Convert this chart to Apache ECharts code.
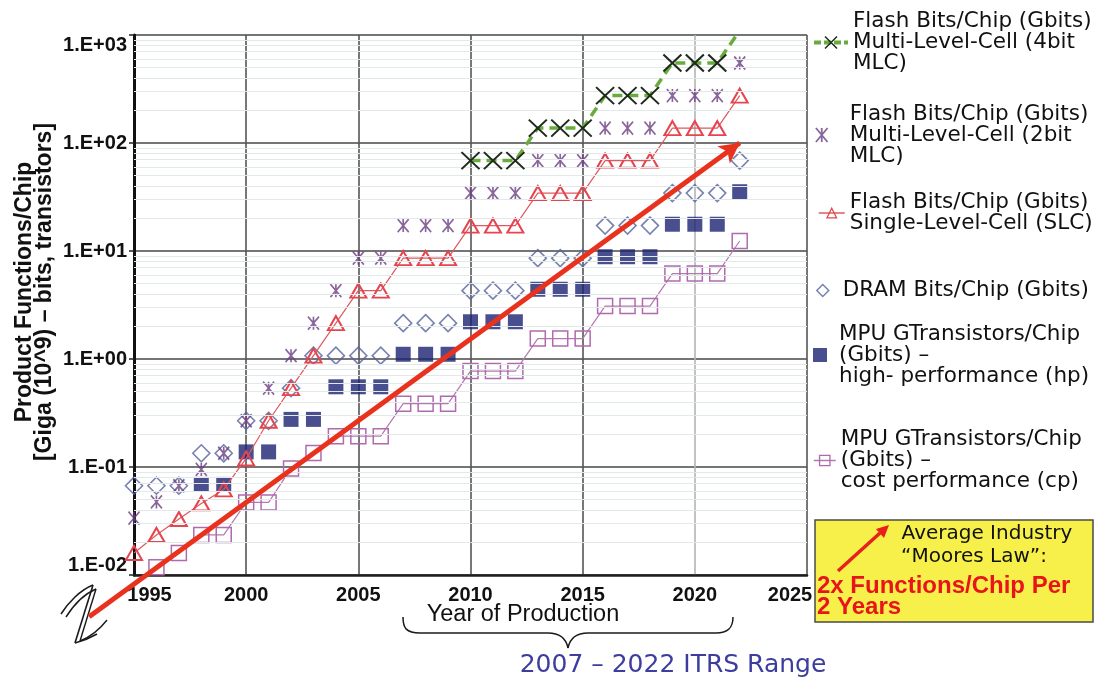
<!DOCTYPE html>
<html>
<head>
<meta charset="utf-8">
<title>Product Functions per Chip</title>
<script src="https://cdn.jsdelivr.net/npm/echarts@6/dist/echarts.min.js"></script>
<style>
  html, body { margin: 0; padding: 0; background: #ffffff; }
  #chart { width: 1102px; height: 681px; }
</style>
</head>
<body>
<div id="chart"></div>
<script>
// Year of production, one entry per column of marks
const years = [1995, 1996, 1997, 1998, 1999, 2000, 2001, 2002, 2003, 2004, 2005, 2006, 2007, 2008,
               2009, 2010, 2011, 2012, 2013, 2014, 2015, 2016, 2017, 2018, 2019, 2020, 2021, 2022];

// Gbits (or GTransistors) per chip; null where a product has no entry
const flash4bit = [null, null, null, null, null, null, null, null, null, null, null, null, null, null,
                   null, 68.72, 68.72, 68.72, 137.4, 137.4, 137.4, 274.9, 274.9, 274.9, 549.8, 549.8, 549.8, 1099.5];
const flash2bit = [0.0336, 0.0475, 0.0671, 0.095, 0.134, 0.268, 0.537, 1.074, 2.147, 4.295, 8.59, 8.59, 17.18, 17.18,
                   17.18, 34.36, 34.36, 34.36, 68.72, 68.72, 68.72, 137.4, 137.4, 137.4, 274.9, 274.9, 274.9, 549.8];
const flashSLC  = [0.016, 0.0235, 0.033, 0.046, 0.062, 0.12, 0.268, 0.537, 1.074, 2.147, 4.295, 4.295, 8.59, 8.59,
                   8.59, 17.18, 17.18, 17.18, 34.36, 34.36, 34.36, 68.72, 68.72, 68.72, 137.4, 137.4, 137.4, 274.9];
const dram      = [0.0671, 0.0671, 0.0671, 0.134, 0.134, 0.268, 0.268, 0.537, 1.074, 1.074, 1.074, 1.074, 2.147, 2.147,
                   2.147, 4.295, 4.295, 4.295, 8.59, 8.59, 8.59, 17.18, 17.18, 17.18, 34.36, 34.36, 34.36, 68.72];
const mpuHP     = [null, null, null, 0.069, 0.069, 0.138, 0.138, 0.276, 0.276, 0.553, 0.553, 0.553, 1.106, 1.106,
                   1.106, 2.212, 2.212, 2.212, 4.424, 4.424, 4.424, 8.848, 8.848, 8.848, 17.696, 17.696, 17.696, 35.391];
const mpuCP     = [null, 0.0118, 0.016, 0.0235, 0.0235, 0.047, 0.047, 0.097, 0.135, 0.193, 0.193, 0.193, 0.386, 0.386,
                   0.386, 0.773, 0.773, 0.773, 1.546, 1.546, 1.546, 3.092, 3.092, 3.092, 6.184, 6.184, 6.184, 12.368];

// Average industry trend: 2x functions per chip every 2 years
const mooreYears  = [1993, 2022];
const mooreValues = [0.0041, 100];

// Axis tick labels
const yTickLabels = ['1.E-02', '1.E-01', '1.E+00', '1.E+01', '1.E+02', '1.E+03'];
const xTickLabels = ['1995', '2000', '2005', '2010', '2015', '2020', '2025'];

// Series names (also legend text)
const N4 = 'Flash Bits/Chip (Gbits)\nMulti-Level-Cell (4bit\nMLC)';
const N2 = 'Flash Bits/Chip (Gbits)\nMulti-Level-Cell (2bit\nMLC)';
const NS = 'Flash Bits/Chip (Gbits)\nSingle-Level-Cell (SLC)';
const ND = 'DRAM Bits/Chip (Gbits)';
const NH = 'MPU GTransistors/Chip\n(Gbits) –\nhigh- performance (hp)';
const NC = 'MPU GTransistors/Chip\n(Gbits) –\ncost performance (cp)';

const pairs = vals => years.map((y, i) => vals[i] == null ? null : [y, vals[i]]).filter(Boolean);

// faint log-spaced lines between the decades
const minorLevels = [];
for (let e = -2; e < 3; e++) for (let m = 2; m <= 9; m++) minorLevels.push(m * Math.pow(10, e));

const SYM_X = 'path://M0,0L10,10M10,0L0,10';
const SYM_AST = 'path://M0,0L10,12M10,0L0,12M5,0L5,12';

const C = {
  f4Line: '#6aac3c', f4Mark: '#1f2a1f',
  f2: '#6b3f82',
  slc: '#e5454f', slcLine: '#dd5a60',
  dram: '#56639a',
  hp: '#1b2272',
  cp: '#b06aae', cpLine: '#b27ab0',
  moore: '#e8321e'
};

// Plot frame in pixels; the trend line uses a wider companion frame with the same scale
const G = { left: 134, right: 295, top: 35, bottom: 106 };
const X0 = 1995, X1 = 2025, EXT_X0 = 1993;
const LOG0 = -2, LOG1 = 3, EXT_LOG0 = -2.5;
const plotW = 1102 - G.left - G.right, plotH = 681 - G.top - G.bottom;
const G2 = {
  left: G.left - (X0 - EXT_X0) * plotW / (X1 - X0),
  right: G.right, top: G.top,
  bottom: G.bottom - (LOG0 - EXT_LOG0) * plotH / (LOG1 - LOG0)
};

const legendFont = { fontFamily: 'DejaVu Sans', fontSize: 21.5, lineHeight: 21, color: '#111' };

function legendBox(name, left, top, w, h, extra) {
  return Object.assign({
    data: [name], left: left, top: top, orient: 'vertical', padding: 0, itemGap: 0,
    itemWidth: w, itemHeight: h, selectedMode: false,
    textStyle: Object.assign({}, legendFont)
  }, extra || {});
}

// thin black strokes for the hand-drawn decorations
const ink = (w) => ({ fill: null, stroke: '#1a1a1a', lineWidth: w });
const bez = (x1, y1, c1x, c1y, c2x, c2y, x2, y2, w) => ({
  type: 'bezierCurve', silent: true,
  shape: { x1: x1, y1: y1, cpx1: c1x, cpy1: c1y, cpx2: c2x, cpy2: c2y, x2: x2, y2: y2 },
  style: ink(w)
});
const seg = (x1, y1, x2, y2, w) => ({
  type: 'line', silent: true, shape: { x1: x1, y1: y1, x2: x2, y2: y2 }, style: ink(w)
});

const chart = echarts.init(document.getElementById('chart'), null, { renderer: 'canvas' });

const option = {
  animation: false,
  backgroundColor: '#ffffff',
  grid: [
    { left: G.left, right: G.right, top: G.top, bottom: G.bottom, containLabel: false },
    { left: G2.left, right: G2.right, top: G2.top, bottom: G2.bottom, containLabel: false, show: false }
  ],
  xAxis: [{
    type: 'value', min: X0, max: X1, interval: 5, gridIndex: 0,
    axisLine: { show: true, onZero: false, lineStyle: { color: '#1e1e1e', width: 2.5 } },
    axisTick: { show: false },
    splitLine: { show: true, lineStyle: { color: ['#555', '#555', '#555', '#555', '#555', '#b4b4b4', '#555'], width: 1.6 } },
    axisLabel: {
      margin: 10, color: '#111', fontFamily: 'Liberation Sans', fontWeight: 'bold', fontSize: 20,
      formatter: v => {
        const t = xTickLabels[Math.round((v - X0) / 5)];
        if (v === X0) return '{first|' + t + '}';
        if (v === X1) return '{last|' + t + '}';
        return t;
      },
      rich: {
        first: { padding: [0, 0, 0, 31], fontFamily: 'Liberation Sans', fontWeight: 'bold', fontSize: 20, color: '#111' },
        last: { padding: [0, 34, 0, 0], fontFamily: 'Liberation Sans', fontWeight: 'bold', fontSize: 20, color: '#111' }
      }
    }
  }, {
    type: 'value', min: EXT_X0, max: X1, gridIndex: 1, show: false
  }],
  yAxis: [{
    type: 'log', logBase: 10, min: Math.pow(10, LOG0), max: Math.pow(10, LOG1), gridIndex: 0,
    axisLine: { show: true, lineStyle: { color: '#111', width: 3 } },
    axisTick: { show: true, length: 5, lineStyle: { color: '#222', width: 1.5 } },
    minorTick: { show: false },
    splitLine: { show: true, lineStyle: { color: '#474747', width: 1.6 } },
    axisLabel: {
      margin: 7, color: '#111', fontFamily: 'Liberation Sans', fontWeight: 'bold', fontSize: 20,
      verticalAlignMaxLabel: 'top', verticalAlignMinLabel: 'bottom',
      formatter: v => yTickLabels[Math.round(Math.log10(v)) + 2]
    }
  }, {
    type: 'log', logBase: 10, min: Math.pow(10, EXT_LOG0), max: Math.pow(10, LOG1), gridIndex: 1, show: false
  }],
  legend: [
    legendBox(N4, 812, 10.5, 34, 15, {
      lineStyle: { color: C.f4Line, width: 4, type: [7, 3] },
      itemStyle: { color: C.f4Mark, borderColor: C.f4Mark, borderWidth: 1.5 }
    }),
    legendBox(N2, 815, 94.5, 14, 14, {
      itemStyle: { color: C.f2, borderColor: C.f2, borderWidth: 1.8 },
      textStyle: Object.assign({}, legendFont, { padding: [0, 0, 18, 16] })
    }),
    legendBox(NS, 818, 187, 26, 12, {
      lineStyle: { color: C.slcLine, width: 1.5 },
      itemStyle: { color: 'transparent', borderColor: C.slc, borderWidth: 1.3 },
      textStyle: Object.assign({}, legendFont, { padding: [0, 0, 10, 0] })
    }),
    legendBox(ND, 816, 279.5, 12, 12, {
      itemStyle: { color: 'transparent', borderColor: C.dram, borderWidth: 1.5 },
      textStyle: Object.assign({}, legendFont, { padding: [0, 0, 0, 9] })
    }),
    legendBox(NH, 813, 310.5, 14, 14, {
      itemStyle: { color: C.hp },
      textStyle: Object.assign({}, legendFont, { padding: [26, 0, 0, 7] })
    }),
    legendBox(NC, 813, 428.5, 22, 13, {
      lineStyle: { color: C.cpLine, width: 1.5 },
      itemStyle: { color: 'transparent', borderColor: C.cp, borderWidth: 1.3 }
    })
  ],
  series: [
    {
      type: 'line', name: 'minor grid', data: [], silent: true, z: 1,
      markLine: {
        silent: true, symbol: ['none', 'none'], label: { show: false },
        lineStyle: { color: '#e2e9e9', width: 1, type: 'solid' },
        emphasis: { disabled: true },
        data: minorLevels.map(v => ({ yAxis: v }))
      }
    },
    {
      type: 'line', name: NC, data: pairs(mpuCP), z: 3,
      symbol: 'rect', symbolSize: 15,
      itemStyle: { color: 'transparent', borderColor: C.cp, borderWidth: 1.5 },
      lineStyle: { color: C.cpLine, width: 1.2 }
    },
    {
      type: 'scatter', name: NH, data: pairs(mpuHP), z: 3,
      symbol: 'rect', symbolSize: 15,
      itemStyle: { color: C.hp }
    },
    {
      type: 'scatter', name: ND, data: pairs(dram), z: 3,
      symbol: 'diamond', symbolSize: [17, 17],
      itemStyle: { color: 'transparent', borderColor: C.dram, borderWidth: 1.6 }
    },
    {
      type: 'line', name: NS, data: pairs(flashSLC), z: 4,
      symbol: 'triangle', symbolSize: [16, 14],
      itemStyle: { color: 'transparent', borderColor: C.slc, borderWidth: 2 },
      lineStyle: { color: C.slcLine, width: 1.2 }
    },
    {
      type: 'scatter', name: N2, data: pairs(flash2bit), z: 4,
      symbol: SYM_AST, symbolSize: [11, 13],
      itemStyle: { color: C.f2, borderColor: C.f2, borderWidth: 1.8 }
    },
    {
      type: 'line', name: N4, data: pairs(flash4bit), z: 5,
      symbol: SYM_X, symbolSize: [18, 17],
      itemStyle: { color: C.f4Mark, borderColor: C.f4Mark, borderWidth: 2 },
      lineStyle: { color: C.f4Line, width: 3.5, type: [10, 6] }
    },
    {
      type: 'line', id: 'moore', name: 'Moores Law', z: 10, silent: true,
      xAxisIndex: 1, yAxisIndex: 1,
      symbol: 'arrow', symbolSize: [16, 20],
      itemStyle: { color: C.moore },
      lineStyle: { color: C.moore, width: 5 },
      data: [
        { value: [mooreYears[0], mooreValues[0]], symbol: 'none' },
        { value: [mooreYears[1], mooreValues[1]] }
      ]
    }
  ],
  graphic: {
    elements: [
      // axis title
      {
        type: 'text', x: 35, y: 292, rotation: Math.PI / 2, silent: true,
        style: {
          text: 'Product Functions/Chip\n[Giga (10^9) – bits, transistors]',
          fontFamily: 'Liberation Sans', fontWeight: 'bold', fontSize: 23, lineHeight: 20,
          fill: '#111', align: 'center', verticalAlign: 'middle'
        }
      },
      // axis break mark
      bez(61, 614, 68, 603, 80, 590, 93, 585, 1.6),
      seg(93, 585, 75, 643, 1.6),
      bez(75, 643, 83, 641, 90, 638, 97, 634, 1.6),
      bez(66, 617, 73, 606, 84, 594, 96, 589, 1.4),
      seg(96, 589, 80, 641, 1.4),
      bez(80, 641, 90, 637, 100, 629, 107, 620, 1.4),
      // x axis title and range brace
      {
        type: 'text', x: 523, y: 615, silent: true,
        style: { text: 'Year of Production', fontFamily: 'Liberation Sans', fontSize: 23.5, fill: '#111', align: 'center', verticalAlign: 'middle' }
      },
      bez(403, 617, 403, 628, 406, 633, 420, 633, 1.5),
      seg(420, 633, 548, 633, 1.5),
      bez(548, 633, 560, 633, 566, 638, 568, 648, 1.5),
      bez(568, 648, 570, 638, 576, 633, 588, 633, 1.5),
      seg(588, 633, 716, 633, 1.5),
      bez(716, 633, 728, 633, 733, 628, 733, 617, 1.5),
      {
        type: 'text', x: 673, y: 665, silent: true,
        style: { text: '2007 – 2022 ITRS Range', fontFamily: 'DejaVu Sans', fontSize: 25, fill: '#3d3d9e', align: 'center', verticalAlign: 'middle' }
      },
      // trend note
      {
        type: 'rect', silent: true,
        shape: { x: 815, y: 520, width: 278, height: 102 },
        style: { fill: '#f8f04a', stroke: '#4a4a4a', lineWidth: 1.5 }
      },
      {
        type: 'text', x: 987, y: 534, silent: true,
        style: { text: 'Average Industry', fontFamily: 'DejaVu Sans', fontSize: 20, fill: '#111', align: 'center', verticalAlign: 'middle' }
      },
      {
        type: 'text', x: 974, y: 557, silent: true,
        style: { text: '“Moores Law”:', fontFamily: 'DejaVu Sans', fontSize: 20, fill: '#111', align: 'center', verticalAlign: 'middle' }
      },
      {
        type: 'text', x: 817, y: 597, silent: true,
        style: {
          text: '2x Functions/Chip Per\n2 Years', fontFamily: 'Liberation Sans', fontWeight: 'bold', fontSize: 24,
          lineHeight: 21, fill: '#e8141c', align: 'left', verticalAlign: 'middle'
        }
      },
      {
        type: 'line', silent: true,
        shape: { x1: 838, y1: 571, x2: 880, y2: 533 },
        style: { stroke: '#e8201c', lineWidth: 3.5 }
      },
      {
        type: 'polygon', silent: true,
        shape: { points: [[889, 525], [884, 538], [876, 529]] },
        style: { fill: '#e8201c' }
      }
    ]
  }
};

chart.setOption(option);

// point the trend arrow along its own line
const p0 = chart.convertToPixel({ gridIndex: 1 }, [mooreYears[0], mooreValues[0]]);
const p1 = chart.convertToPixel({ gridIndex: 1 }, [mooreYears[1], mooreValues[1]]);
const dx = p1[0] - p0[0], dy = p0[1] - p1[1];
const ang = Math.atan2(dy, dx) * 180 / Math.PI;
chart.setOption({
  series: [{
    id: 'moore',
    data: [
      { value: [mooreYears[0], mooreValues[0]], symbol: 'none' },
      { value: [mooreYears[1], mooreValues[1]], symbolRotate: ang - 90 }
    ]
  }]
});
</script>
</body>
</html>
